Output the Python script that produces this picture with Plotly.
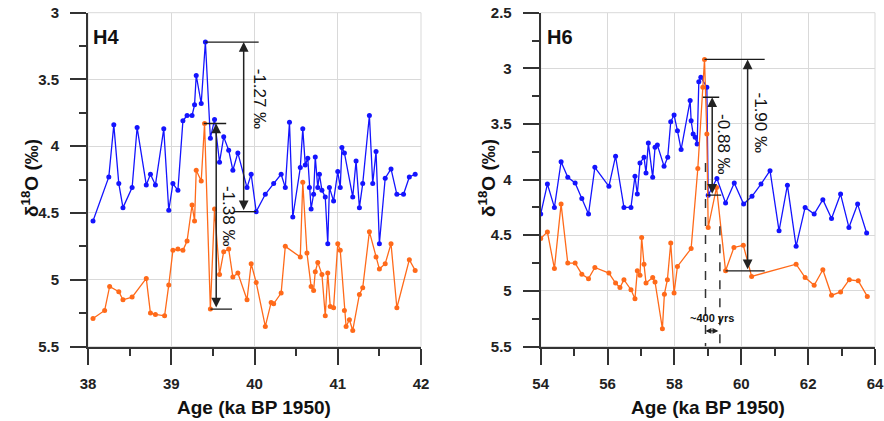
import plotly.graph_objects as go

# ---------------- data ----------------
h4_blue_age = [38.06, 38.25, 38.31, 38.37, 38.42, 38.53, 38.59, 38.70, 38.75, 38.81,
               38.91, 38.97, 39.02, 39.08, 39.14, 39.19, 39.25, 39.28, 39.30, 39.36,
               39.41, 39.47, 39.52, 39.58, 39.63, 39.69, 39.74, 39.80, 39.91, 39.96,
               40.02, 40.13, 40.23, 40.32, 40.37, 40.42, 40.46, 40.55, 40.58, 40.61,
               40.64, 40.66, 40.68, 40.71, 40.73, 40.76, 40.78, 40.81, 40.85, 40.88,
               40.90, 40.95, 41.00, 41.03, 41.05, 41.08, 41.18, 41.22, 41.26, 41.30,
               41.38, 41.42, 41.46, 41.50, 41.57, 41.64, 41.71, 41.79, 41.86, 41.93]
h4_blue = [4.56, 4.23, 3.84, 4.28, 4.46, 4.31, 3.86, 4.29, 4.21, 4.29,
           3.87, 4.48, 4.28, 4.33, 3.81, 3.77, 3.77, 3.69, 3.47, 3.68,
           3.22, 3.94, 3.80, 4.12, 3.93, 4.03, 4.18, 4.05, 4.31, 4.21,
           4.49, 4.36, 4.28, 4.21, 4.31, 3.82, 4.53, 4.16, 3.87, 4.14,
           4.09, 4.31, 4.47, 4.36, 4.08, 4.31, 4.21, 4.33, 4.38, 4.73,
           4.31, 4.41, 4.19, 4.31, 4.01, 4.05, 4.38, 4.11, 4.46, 4.28,
           3.77, 4.28, 4.04, 4.73, 4.24, 4.17, 4.36, 4.36, 4.23, 4.21]

h4_orange_age = [38.06, 38.20, 38.26, 38.37, 38.42, 38.53, 38.70, 38.75, 38.81, 38.92,
                 38.97, 39.02, 39.08, 39.14, 39.19, 39.25, 39.28, 39.30, 39.36, 39.40,
                 39.47, 39.52, 39.58, 39.63, 39.69, 39.74, 39.80, 39.91, 39.96, 40.02,
                 40.13, 40.20, 40.23, 40.32, 40.37, 40.55, 40.58, 40.63, 40.68, 40.71,
                 40.73, 40.76, 40.81, 40.85, 40.88, 40.91, 40.95, 41.00, 41.03, 41.08,
                 41.10, 41.14, 41.18, 41.26, 41.30, 41.38, 41.46, 41.50, 41.57, 41.64,
                 41.71, 41.86, 41.93]
h4_orange = [5.29, 5.23, 5.05, 5.09, 5.15, 5.13, 4.99, 5.25, 5.26, 5.27,
             5.04, 4.78, 4.77, 4.78, 4.71, 4.44, 4.56, 4.18, 4.26, 3.83,
             5.22, 4.47, 4.96, 4.79, 4.77, 4.98, 4.95, 5.15, 4.88, 5.02,
             5.35, 5.17, 5.18, 5.10, 4.75, 4.83, 4.27, 4.80, 5.05, 5.08,
             4.94, 4.87, 4.96, 5.27, 4.95, 5.20, 5.21, 4.73, 4.78, 5.23,
             5.35, 5.30, 5.38, 5.11, 5.06, 4.64, 4.83, 4.92, 4.88, 4.73,
             5.21, 4.85, 4.93]

h6_blue_age = [54.00, 54.20, 54.41, 54.61, 54.81, 55.03, 55.23, 55.43, 55.62, 56.04,
               56.24, 56.49, 56.70, 56.82, 56.89, 56.97, 57.09, 57.15, 57.22, 57.35,
               57.42, 57.49, 57.69, 57.80, 57.89, 57.99, 58.09, 58.20, 58.47, 58.50,
               58.56, 58.62, 58.68, 58.73, 58.79, 58.97, 59.01, 59.27, 59.53, 59.79,
               60.07, 60.32, 60.59, 60.86, 61.13, 61.38, 61.64, 61.91, 62.18, 62.44,
               62.70, 62.97, 63.22, 63.48, 63.75]
h6_blue = [4.31, 4.04, 4.25, 3.84, 3.98, 4.03, 4.17, 4.31, 3.89, 4.06,
           3.79, 4.25, 4.25, 3.97, 4.13, 3.85, 3.80, 3.94, 3.67, 3.98,
           3.71, 3.69, 3.88, 3.80, 3.48, 3.42, 3.56, 3.73, 3.29, 3.47,
           3.59, 3.62, 3.68, 3.12, 3.08, 3.17, 4.14, 3.99, 4.21, 4.03,
           4.22, 4.15, 4.04, 3.92, 4.46, 4.05, 4.60, 4.25, 4.31, 4.18,
           4.35, 4.13, 4.43, 4.22, 4.48]

h6_orange_age = [54.00, 54.20, 54.41, 54.61, 54.81, 55.03, 55.23, 55.43, 55.62, 56.04,
                 56.24, 56.37, 56.49, 56.70, 56.82, 56.89, 56.97, 57.02, 57.09, 57.15,
                 57.35, 57.42, 57.64, 57.70, 57.79, 57.89, 57.99, 58.09, 58.50, 58.70,
                 58.85, 58.90, 58.97, 59.01, 59.26, 59.53, 59.78, 60.06, 60.31, 61.64,
                 61.91, 62.18, 62.44, 62.70, 62.97, 63.23, 63.50, 63.77]
h6_orange = [4.53, 4.47, 4.80, 4.22, 4.75, 4.75, 4.85, 4.89, 4.79, 4.84,
             4.93, 4.97, 4.90, 4.99, 5.07, 4.82, 4.86, 4.52, 4.76, 4.93,
             4.88, 4.92, 5.34, 5.03, 4.90, 4.57, 5.02, 4.78, 4.62, 3.90,
             3.17, 2.92, 3.59, 4.43, 4.07, 4.82, 4.61, 4.59, 4.87, 4.76,
             4.88, 4.95, 4.81, 5.04, 5.01, 4.90, 4.91, 5.05]

assert len(h4_blue_age) == len(h4_blue)
assert len(h4_orange_age) == len(h4_orange)
assert len(h6_blue_age) == len(h6_blue)
assert len(h6_orange_age) == len(h6_orange)

panel_labels = ["H4", "H6"]
x_title = "Age (ka BP 1950)"
y_title = "δ<sup>18</sup>O (‰)"

# ---------------- style ----------------
BLUE = "#1414ff"
ORANGE = "#ff6a1a"
AX = "#333333"
GRID = "#d9d9d9"
FONT = "Liberation Sans"

fig = go.Figure()

def add_series(x, y, color, xa, ya):
    fig.add_trace(go.Scatter(x=x, y=y, mode="lines+markers", xaxis=xa, yaxis=ya,
                             line=dict(color=color, width=1.3),
                             marker=dict(color=color, size=5), hoverinfo="x+y"))

add_series(h4_blue_age, h4_blue, BLUE, "x", "y")
add_series(h4_orange_age, h4_orange, ORANGE, "x", "y")
add_series(h6_blue_age, h6_blue, BLUE, "x2", "y2")
add_series(h6_orange_age, h6_orange, ORANGE, "x2", "y2")

W, H = 884, 421
ydom = [1 - 346.5 / H, 1 - 12.7 / H]
tickfont = dict(family=FONT, size=15, color="#222222", weight="bold")

def xaxis(dom, rng, anchor, minor):
    return dict(domain=dom, range=rng, anchor=anchor, dtick=1 if rng[0] < 50 else 2,
                tick0=rng[0], ticks="outside", ticklen=16, tickwidth=2, tickcolor=AX,
                showline=True, linecolor=AX, linewidth=2, showgrid=True, gridcolor=GRID,
                gridwidth=1, zeroline=False, tickfont=tickfont, ticklabelstandoff=6,
                automargin=False,
                minor=dict(dtick=minor, ticks="outside", ticklen=7, tickwidth=2,
                           tickcolor=AX, showgrid=False))

def yaxis(rng, anchor):
    return dict(domain=ydom, range=rng, anchor=anchor, dtick=0.5, tick0=3,
                ticks="outside", ticklen=16, tickwidth=2, tickcolor=AX,
                showline=True, linecolor=AX, linewidth=2, showgrid=True, gridcolor=GRID,
                gridwidth=1, zeroline=False, tickfont=tickfont, ticklabelstandoff=8,
                automargin=False,
                minor=dict(dtick=0.25, ticks="outside", ticklen=7, tickwidth=2,
                           tickcolor=AX, showgrid=False))

fig.update_layout(
    width=W, height=H, margin=dict(l=0, r=0, t=0, b=0, pad=0, autoexpand=False),
    paper_bgcolor="white", plot_bgcolor="white", showlegend=False,
    xaxis=xaxis([88 / W, 421 / W], [38, 42], "y", 0.5),
    yaxis=yaxis([5.5, 3.0], "x"),
    xaxis2=xaxis([540.7 / W, 875 / W], [54, 64], "y2", 1),
    yaxis2=yaxis([5.5, 2.5], "x2"),
)

shapes = []
annots = []

# light plot frame
for xr, yr in (("x", "y"), ("x2", "y2")):
    shapes.append(dict(type="rect", xref=xr + " domain", yref=yr + " domain",
                       x0=0, x1=1, y0=0, y1=1, line=dict(color=GRID, width=1),
                       layer="below"))

def hline(xr, yr, x0, x1, y):
    shapes.append(dict(type="line", xref=xr, yref=yr, x0=x0, x1=x1, y0=y, y1=y,
                       line=dict(color="#1a1a1a", width=1.3)))

def darrow(xr, yr, x, y0, y1):
    annots.append(dict(xref=xr, yref=yr, axref=xr, ayref=yr, x=x, y=y0, ax=x, ay=y1,
                       text="", showarrow=True, arrowside="end+start",
                       arrowhead=2, startarrowhead=2, arrowsize=1.3, startarrowsize=1.3,
                       arrowwidth=1.5, arrowcolor="#222222", standoff=0, startstandoff=0))

def rtext(xr, yr, x, y, txt, size=17):
    annots.append(dict(xref=xr, yref=yr, x=x, y=y, text=txt, showarrow=False,
                       textangle=90, xanchor="center", yanchor="middle",
                       font=dict(family=FONT, size=size, color="#111111")))

# H4: blue amplitude
b_top = min(h4_blue)
b_bot = h4_blue[h4_blue_age.index(40.02)]
hline("x", "y", h4_blue_age[h4_blue.index(b_top)], 40.05, b_top)
hline("x", "y", 39.75, 40.02, b_bot)
darrow("x", "y", 39.87, b_top, b_bot)
rtext("x", "y", 40.06, 3.64, "-1.27 ‰")

# H4: orange amplitude
o_top = min(h4_orange)
o_bot = h4_orange[h4_orange_age.index(39.47)]
hline("x", "y", 39.39, 39.66, o_top)
hline("x", "y", 39.47, 39.73, o_bot)
darrow("x", "y", 39.54, o_top, o_bot)
rtext("x", "y", 39.69, 4.52, "-1.38 ‰")

# H6: orange amplitude
p_top = min(h6_orange)
p_bot = h6_orange[h6_orange_age.index(59.53)]
hline("x2", "y2", 58.90, 60.70, p_top)
hline("x2", "y2", 59.53, 60.70, p_bot)
darrow("x2", "y2", 60.19, p_top, p_bot)
rtext("x2", "y2", 60.57, 3.49, "-1.90 ‰")

# H6: blue amplitude
q_bot = h6_blue[h6_blue_age.index(59.01)]
q_top = q_bot - 0.88
hline("x2", "y2", 58.85, 59.34, q_top)
hline("x2", "y2", 58.97, 59.40, q_bot)
darrow("x2", "y2", 59.13, q_top, q_bot)
rtext("x2", "y2", 59.45, 3.68, "-0.88 ‰")

# lag lines
for xv, ytop in ((58.93, 3.85), (59.36, 4.42)):
    shapes.append(dict(type="line", xref="x2", yref="y2", x0=xv, x1=xv, y0=ytop, y1=5.5,
                       line=dict(color="#333333", width=1.5, dash="dash")))
annots.append(dict(xref="x2", yref="y2", axref="x2", ayref="y2", x=58.93, y=5.36,
                   ax=59.36, ay=5.36, text="", showarrow=True, arrowside="end+start",
                   arrowhead=2, startarrowhead=2, arrowsize=0.9, startarrowsize=0.9,
                   arrowwidth=1.3, arrowcolor="#222222", standoff=0, startstandoff=0))
annots.append(dict(xref="x2", yref="y2", x=59.12, y=5.24, text="~400 yrs", showarrow=False,
                   xanchor="center", yanchor="middle",
                   font=dict(family=FONT, size=11, color="#111111", weight="bold")))

# panel labels
annots.append(dict(xref="x", yref="y", x=38.04, y=3.18, text=panel_labels[0], showarrow=False,
                   xanchor="left", yanchor="middle",
                   font=dict(family=FONT, size=20, color="#111111", weight="bold")))
annots.append(dict(xref="x2", yref="y2", x=54.12, y=2.72, text=panel_labels[1], showarrow=False,
                   xanchor="left", yanchor="middle",
                   font=dict(family=FONT, size=20, color="#111111", weight="bold")))

# axis titles
tfont = dict(family=FONT, size=19, color="#111111", weight="bold")
for xc in (254.5, 708):
    annots.append(dict(xref="paper", yref="paper", x=xc / W, y=1 - 407 / H, text=x_title,
                       showarrow=False, xanchor="center", yanchor="middle", font=tfont))
for xc in (30, 487):
    annots.append(dict(xref="paper", yref="paper", x=xc / W, y=1 - 178 / H, text=y_title,
                       showarrow=False, textangle=-90, xanchor="center", yanchor="middle",
                       font=tfont))

fig.update_layout(shapes=shapes, annotations=annots)
fig.write_html("out.html")
